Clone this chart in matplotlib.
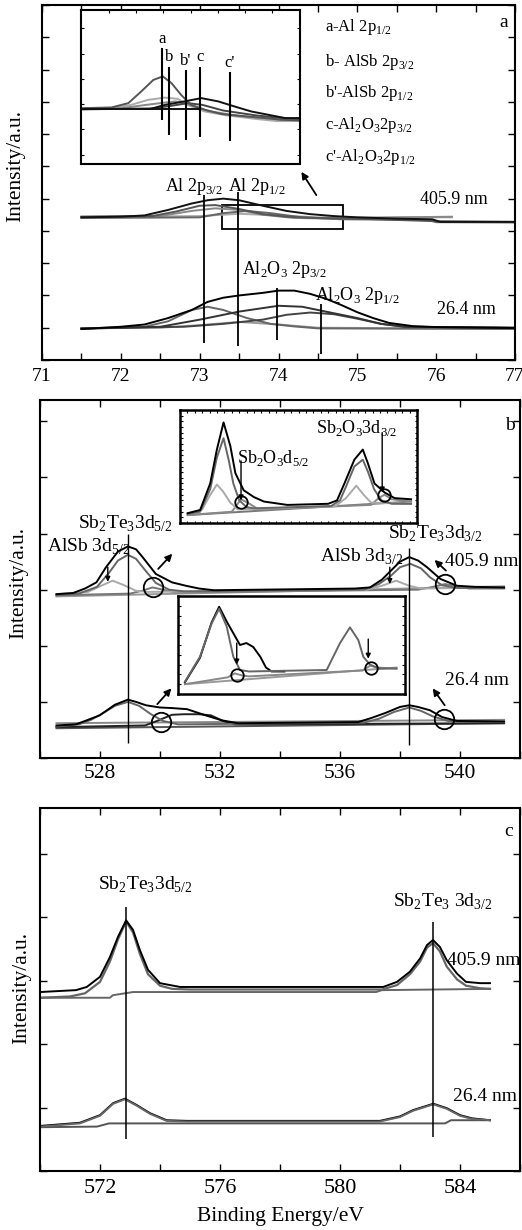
import numpy as np
import matplotlib
matplotlib.use('Agg')
import matplotlib.pyplot as plt
from matplotlib.ticker import MultipleLocator, FixedLocator
from matplotlib.patches import Rectangle

plt.rcParams['font.family'] = ['Liberation Serif', 'DejaVu Serif']
plt.rcParams['mathtext.fontset'] = 'custom'
plt.rcParams['mathtext.rm'] = 'Liberation Serif'

W, H = 522, 1230

# ---------------- panel a : Al 2p ----------------
A_U_BLACK_X = [71.5, 72.0, 72.3, 72.6, 72.9, 73.1, 73.3, 73.5, 73.8, 74.1, 74.4, 74.7, 75.0, 75.5, 75.95, 76.05, 77.0]
A_U_BLACK_Y = [4.42, 4.44, 4.48, 4.65, 4.85, 4.95, 5.00, 4.95, 4.78, 4.62, 4.52, 4.46, 4.42, 4.38, 4.36, 4.28, 4.28]
A_U_G1_X = [71.5, 72.4, 72.7, 73.0, 73.2, 73.5, 73.8, 74.1, 74.5, 75.0, 76.0, 77.0]
A_U_G1_Y = [4.44, 4.46, 4.60, 4.78, 4.80, 4.68, 4.52, 4.44, 4.40, 4.38, 4.30, 4.28]
A_U_G2_X = [71.5, 72.5, 72.9, 73.2, 73.5, 73.8, 74.2, 74.8, 75.5, 76.2]
A_U_G2_Y = [4.44, 4.46, 4.62, 4.70, 4.65, 4.50, 4.40, 4.38, 4.42, 4.44]
A_U_G3_X = [71.5, 73.0, 73.3, 73.6, 73.9, 74.3, 74.8, 75.9, 76.0, 77.0]
A_U_G3_Y = [4.40, 4.42, 4.55, 4.62, 4.55, 4.42, 4.36, 4.34, 4.27, 4.26]
A_U_G4_X = [71.5, 73.0, 73.5, 74.0, 74.5, 76.2]
A_U_G4_Y = [4.43, 4.46, 4.53, 4.48, 4.42, 4.42]

A_L_BLACK_X = [71.5, 72.0, 72.3, 72.6, 72.9, 73.1, 73.3, 73.5, 73.8, 74.0, 74.2, 74.4, 74.6, 74.8, 75.0, 75.2, 75.4, 75.7, 76.0, 77.0]
A_L_BLACK_Y = [0.96, 1.03, 1.10, 1.30, 1.55, 1.80, 1.93, 2.00, 2.08, 2.15, 2.15, 2.05, 1.90, 1.70, 1.48, 1.30, 1.15, 1.05, 1.02, 0.99]
A_L_G1_X = [71.5, 72.5, 73.0, 73.5, 74.0, 74.3, 74.6, 75.0, 75.3, 75.6, 77.0]
A_L_G1_Y = [0.97, 1.03, 1.25, 1.50, 1.68, 1.65, 1.50, 1.30, 1.12, 1.03, 1.00]
A_L_G2_X = [71.5, 72.8, 73.3, 73.8, 74.1, 74.4, 74.7, 75.0, 75.3, 75.6, 77.0]
A_L_G2_Y = [0.98, 1.03, 1.12, 1.25, 1.40, 1.47, 1.42, 1.28, 1.12, 1.03, 1.00]
A_L_G3_X = [71.5, 72.3, 72.6, 72.9, 73.1, 73.3, 73.6, 73.9, 74.2, 74.5, 77.0]
A_L_G3_Y = [0.98, 1.03, 1.20, 1.55, 1.65, 1.55, 1.30, 1.12, 1.04, 0.98, 0.96]
A_L_G4_X = [71.5, 72.5, 73.0, 73.5, 74.0, 74.5, 76.0]
A_L_G4_Y = [0.98, 1.00, 1.08, 1.18, 1.10, 1.00, 0.98]

A_PEAKS = [73.06, 73.49, 73.98, 74.54]
A_PEAK_LO = [0.53, 0.43, 0.62, 0.19]
A_PEAK_HI = [5.11, 5.22, 2.23, 1.74]

# inset of panel a
AI_G1_X = [72.3, 72.75, 73.0, 73.19, 73.37, 73.51, 73.64, 73.78, 73.93, 74.13, 74.38, 74.72, 75.02, 75.26, 75.54]
AI_G1_Y = [1.84, 1.87, 2.04, 2.50, 2.96, 3.10, 2.83, 2.37, 1.97, 1.78, 1.61, 1.52, 1.45, 1.38, 1.36]
AI_G2_X = [72.3, 72.75, 73.04, 73.29, 73.54, 73.73, 73.88, 74.13, 74.45, 74.87, 75.2, 75.54]
AI_G2_Y = [1.82, 1.84, 1.97, 2.17, 2.26, 2.21, 1.97, 1.71, 1.56, 1.42, 1.33, 1.33]
AI_G3_X = [72.3, 72.9, 73.2, 73.5, 73.7, 73.9, 74.2, 74.6, 75.0, 75.54]
AI_G3_Y = [1.80, 1.84, 1.95, 2.05, 2.11, 1.98, 1.72, 1.55, 1.45, 1.35]
AI_G4_X = [72.3, 73.3, 73.6, 73.88, 74.1, 74.4, 74.9, 75.54]
AI_G4_Y = [1.80, 1.82, 1.92, 2.04, 1.97, 1.75, 1.55, 1.38]
AI_BLACK_X = [72.3, 73.34, 73.54, 73.83, 74.08, 74.33, 74.57, 74.82, 75.07, 75.32, 75.54]
AI_BLACK_Y = [1.80, 1.82, 1.97, 2.11, 2.24, 2.11, 1.91, 1.71, 1.58, 1.45, 1.45]
AI_BASE_X = [72.3, 74.05]
AI_BASE_Y = [1.80, 1.80]
AI_LINES = ['a', 'b', "b'", 'c', "c'"]
AI_LINE_X = [73.50, 73.60, 73.85, 74.06, 74.50]
AI_LINE_LO = [1.38, 0.76, 0.59, 0.69, 0.53]
AI_LINE_HI = [4.22, 3.49, 3.36, 3.49, 3.27]
AI_LEGEND = [r'a-Al 2p$_\mathregular{1/2}$', r'b- AlSb 2p$_\mathregular{3/2}$', r"b'-AlSb 2p$_\mathregular{1/2}$",
             r'c-Al$_\mathregular{2}$O$_\mathregular{3}$2p$_\mathregular{3/2}$',
             r"c'-Al$_\mathregular{2}$O$_\mathregular{3}$2p$_\mathregular{1/2}$"]

# ---------------- panel b : Sb 3d / O 1s ----------------
B_U_BLACK_X = [526.55, 527.1, 527.5, 527.88, 528.2, 528.6, 528.93, 529.2, 529.42, 529.86, 530.4, 530.86, 531.3, 531.8, 536.5, 537.0, 537.4, 537.7, 538.0, 538.31, 538.6, 538.9, 539.35, 539.9, 540.5, 541.47]
B_U_BLACK_Y = [2.92, 2.94, 3.02, 3.13, 3.40, 3.68, 3.77, 3.72, 3.58, 3.28, 3.13, 3.07, 3.02, 2.99, 3.02, 3.04, 3.18, 3.34, 3.50, 3.58, 3.52, 3.40, 3.19, 3.07, 3.05, 3.04]
B_U_G1_X = [526.55, 527.3, 527.9, 528.3, 528.6, 528.93, 529.2, 529.5, 529.86, 530.3, 530.8, 536.8, 537.3, 537.7, 538.0, 538.35, 538.7, 539.0, 539.4, 539.9, 541.47]
B_U_G1_Y = [2.90, 2.93, 3.05, 3.30, 3.52, 3.62, 3.55, 3.35, 3.12, 3.00, 2.97, 3.00, 3.10, 3.25, 3.40, 3.46, 3.38, 3.22, 3.08, 3.03, 3.03]
B_U_G2_X = [526.55, 527.6, 528.0, 528.42, 528.8, 529.2, 529.6, 536.9, 537.4, 537.87, 538.3, 538.7, 541.47]
B_U_G2_Y = [2.92, 2.96, 3.06, 3.16, 3.08, 2.98, 2.96, 3.00, 3.07, 3.16, 3.07, 3.02, 3.04]
B_U_G3_X = [526.55, 529.0, 529.4, 529.75, 530.1, 530.5, 538.6, 539.1, 539.5, 539.9, 540.3, 541.47]
B_U_G3_Y = [2.90, 2.93, 2.98, 3.04, 3.00, 2.95, 3.00, 3.05, 3.10, 3.06, 3.02, 3.02]
B_U_BASE_X = [526.55, 541.47]
B_U_BASE_Y = [2.88, 3.06]

B_L_BLACK_X = [526.55, 527.2, 527.55, 527.99, 528.5, 528.93, 529.2, 529.53, 530.0, 530.4, 530.9, 531.52, 532.07, 532.6, 536.6, 537.03, 537.5, 538.0, 538.31, 538.6, 539.0, 539.4, 539.9, 541.47]
B_L_BLACK_Y = [0.58, 0.60, 0.67, 0.76, 0.95, 1.04, 1.00, 0.94, 0.90, 0.89, 0.87, 0.76, 0.67, 0.62, 0.64, 0.71, 0.80, 0.91, 0.94, 0.91, 0.85, 0.73, 0.66, 0.65]
B_L_G1_X = [526.55, 527.3, 527.7, 528.1, 528.5, 528.93, 529.3, 529.7, 530.1, 530.6, 536.8, 537.3, 537.8, 538.31, 538.7, 539.1, 539.6, 541.47]
B_L_G1_Y = [0.56, 0.60, 0.68, 0.80, 0.93, 1.00, 0.93, 0.78, 0.66, 0.60, 0.63, 0.70, 0.82, 0.90, 0.84, 0.74, 0.66, 0.64]
B_L_D2_X = [526.55, 529.5, 529.9, 530.4, 530.8, 531.3, 531.7, 532.1, 532.5, 541.47]
B_L_D2_Y = [0.55, 0.58, 0.66, 0.77, 0.78, 0.78, 0.76, 0.66, 0.60, 0.62]
B_L_BASE1_Y = [0.62, 0.68]
B_L_BASE2_Y = [0.53, 0.62]

B_PEAKS = [528.93, 538.31]
B_PEAK_LO = [0.27, 0.23]
B_PEAK_HI = [4.00, 3.75]
B_CIRCLE_X = [529.75, 539.50, 530.03, 539.46]
B_CIRCLE_Y = [3.04, 3.10, 0.645, 0.70]

# upper inset of panel b
BU_BLACK_X = [526.52, 527.36, 528.04, 528.49, 528.94, 529.4, 529.74, 530.3, 530.98, 531.66, 533.25, 536.0, 536.6, 537.1, 537.77, 538.34, 538.68, 539.13, 539.81, 540.49, 541.6]
BU_BLACK_Y = [0.087, 0.115, 0.35, 0.65, 0.89, 0.68, 0.44, 0.29, 0.23, 0.19, 0.16, 0.17, 0.20, 0.35, 0.56, 0.65, 0.53, 0.35, 0.27, 0.22, 0.21]
BU_G1_X = [526.52, 527.36, 528.04, 528.49, 528.94, 529.3, 529.6, 530.0, 530.5, 531.0, 536.2, 536.8, 537.2, 537.77, 538.34, 538.7, 539.1, 539.6, 540.3, 541.6]
BU_G1_Y = [0.08, 0.10, 0.30, 0.58, 0.75, 0.55, 0.35, 0.20, 0.14, 0.13, 0.15, 0.20, 0.32, 0.50, 0.56, 0.45, 0.30, 0.20, 0.17, 0.17]
BU_G2_X = [526.52, 527.5, 528.0, 528.49, 528.9, 529.4, 529.9, 536.5, 537.2, 537.9, 538.4, 538.9, 541.6]
BU_G2_Y = [0.08, 0.12, 0.24, 0.34, 0.28, 0.18, 0.12, 0.15, 0.22, 0.33, 0.25, 0.18, 0.17]
BU_G3_X = [526.52, 529.5, 530.12, 530.7, 531.3, 538.9, 539.4, 539.8, 540.3, 541.6]
BU_G3_Y = [0.07, 0.10, 0.21, 0.17, 0.12, 0.16, 0.22, 0.25, 0.21, 0.19]
BU_BASE_X = [526.52, 541.6]
BU_BASE_Y = [0.07, 0.19]
BU_CIRCLE_X = [530.12, 539.80]
BU_CIRCLE_Y = [0.19, 0.25]

# lower inset of panel b
BL_G1_X = [526.49, 527.55, 528.37, 528.9, 529.43, 529.9, 530.37, 531.0, 536.48, 537.42, 538.12, 538.71, 539.06, 539.53, 540.2, 541.4]
BL_G1_Y = [0.126, 0.38, 0.72, 0.87, 0.69, 0.38, 0.245, 0.23, 0.245, 0.52, 0.68, 0.55, 0.38, 0.30, 0.26, 0.26]
BL_BLACK_X = [526.49, 527.55, 528.37, 528.9, 529.43, 529.9, 530.37, 530.82, 531.3, 531.8, 532.2, 532.6, 533.5]
BL_BLACK_Y = [0.12, 0.37, 0.73, 0.89, 0.74, 0.62, 0.50, 0.52, 0.48, 0.38, 0.27, 0.23, 0.23]
BL_G2_X = [526.49, 529.5, 530.0, 530.5, 531.0, 539.0, 539.56, 540.0, 541.4]
BL_G2_Y = [0.10, 0.17, 0.21, 0.19, 0.18, 0.24, 0.29, 0.27, 0.26]
BL_BASE_X = [526.49, 541.4]
BL_BASE_Y = [0.10, 0.27]
BL_CIRCLE_X = [530.14, 539.58]
BL_CIRCLE_Y = [0.19, 0.27]

# ---------------- panel c : Sb 3d ----------------
C_U_BLACK_X = [570.0, 571.2, 571.56, 572.0, 572.33, 572.6, 572.87, 573.1, 573.33, 573.6, 574.0, 574.33, 574.67, 581.44, 581.9, 582.33, 582.67, 582.9, 583.1, 583.33, 583.56, 583.9, 584.2, 584.67, 585.0]
C_U_BLACK_Y = [2.82, 2.85, 2.90, 3.06, 3.37, 3.69, 3.95, 3.80, 3.48, 3.17, 2.96, 2.93, 2.90, 2.90, 2.98, 3.14, 3.35, 3.56, 3.64, 3.53, 3.32, 3.11, 2.98, 2.96, 2.96]
C_U_GRAY_X = [570.0, 571.0, 571.5, 572.0, 572.33, 572.6, 572.87, 573.1, 573.33, 573.6, 574.0, 574.4, 575.0, 581.4, 581.9, 582.33, 582.67, 582.9, 583.1, 583.33, 583.56, 583.9, 584.2, 584.67, 585.0]
C_U_GRAY_Y = [2.73, 2.75, 2.80, 2.98, 3.30, 3.65, 3.93, 3.76, 3.42, 3.10, 2.92, 2.87, 2.86, 2.86, 2.93, 3.10, 3.30, 3.52, 3.59, 3.46, 3.22, 3.02, 2.92, 2.88, 2.87]
C_U_BG_X = [570.0, 572.33, 572.43, 573.1, 581.2, 581.4, 585.0]
C_U_BG_Y = [2.73, 2.73, 2.77, 2.82, 2.82, 2.85, 2.87]
C_L_X = [570.0, 571.33, 572.0, 572.44, 572.83, 573.22, 573.67, 574.22, 574.89, 581.33, 582.0, 582.44, 583.11, 583.56, 584.0, 584.4, 585.0]
C_L_BLACK_Y = [0.71, 0.76, 0.88, 1.07, 1.14, 1.04, 0.91, 0.80, 0.79, 0.79, 0.86, 0.96, 1.06, 0.99, 0.88, 0.83, 0.80]
C_L_GRAY_Y = [0.70, 0.75, 0.87, 1.06, 1.13, 1.03, 0.90, 0.79, 0.78, 0.78, 0.85, 0.95, 1.05, 0.98, 0.87, 0.82, 0.80]
C_L_BG_X = [570.0, 571.9, 572.3, 583.5, 583.7, 585.0]
C_L_BG_Y = [0.69, 0.70, 0.75, 0.75, 0.80, 0.80]
C_PEAKS = [572.87, 583.11]
C_PEAK_LO = [0.51, 0.53]
C_PEAK_HI = [4.16, 3.93]


def px_axes(fig, l, t, r, b):
    return fig.add_axes([l / W, 1 - b / H, (r - l) / W, (b - t) / H])


def style_main(ax, lab_size, pad):
    for s in ax.spines.values():
        s.set_linewidth(1.5)
    ax.tick_params(which='both', direction='in', top=True, right=True,
                   labelleft=False, width=1.0, labelsize=lab_size, pad=pad)
    ax.tick_params(which='major', length=5)
    ax.tick_params(which='minor', length=5)
    ax.yaxis.set_major_locator(MultipleLocator(1))
    ax.yaxis.set_minor_locator(plt.NullLocator())


def style_inset(ax, lw=1.5):
    for s in ax.spines.values():
        s.set_linewidth(lw)
    ax.tick_params(which='both', direction='in', top=True, right=True,
                   labelleft=False, labelbottom=False, width=0.8, length=2.5)


def arrow(ax, tail, head, lw=1.3, ms=10):
    ax.annotate('', xy=head, xytext=tail,
                arrowprops=dict(arrowstyle='-|>', color='k', lw=lw, mutation_scale=ms,
                                shrinkA=0, shrinkB=0))


fig = plt.figure(figsize=(W / 100, H / 100), dpi=100)

# ===== panel a =====
ax = px_axes(fig, 42, 5, 515, 360)
style_main(ax, 14, 6)
ax.set_xlim(71, 77)
ax.set_ylim(0, 11)
ax.xaxis.set_major_locator(MultipleLocator(1))
ax.xaxis.set_minor_locator(MultipleLocator(0.5))
for xs, ys, c in [(A_U_G4_X, A_U_G4_Y, '#aaaaaa'), (A_U_G2_X, A_U_G2_Y, '#888888'),
                  (A_U_G3_X, A_U_G3_Y, '#666666'), (A_U_G1_X, A_U_G1_Y, '#555555'),
                  (A_U_BLACK_X, A_U_BLACK_Y, '#111111'),
                  (A_L_G4_X, A_L_G4_Y, '#999999'), (A_L_G3_X, A_L_G3_Y, '#666666'),
                  (A_L_G2_X, A_L_G2_Y, '#444444'), (A_L_G1_X, A_L_G1_Y, '#333333'),
                  (A_L_BLACK_X, A_L_BLACK_Y, '#000000')]:
    ax.plot(xs, ys, color=c, lw=1.4)
ax.vlines(A_PEAKS, A_PEAK_LO, A_PEAK_HI, color='k', lw=1.3)
ax.add_patch(Rectangle((73.28, 4.06), 1.54, 0.74, fill=False, ec='k', lw=1.3))
arrow(ax, (74.48, 5.11), (74.29, 5.83))
ax.text(72.56, 5.24, r'Al 2p$_\mathregular{3/2}$', fontsize=13)
ax.text(73.36, 5.24, r'Al 2p$_\mathregular{1/2}$', fontsize=13)
ax.text(73.54, 2.66, r'Al$_\mathregular{2}$O$_\mathregular{3}$ 2p$_\mathregular{3/2}$', fontsize=13)
ax.text(74.46, 1.86, r'Al$_\mathregular{2}$O$_\mathregular{3}$ 2p$_\mathregular{1/2}$', fontsize=13)
ax.text(75.8, 4.96, '405.9 nm', fontsize=13, va='center')
ax.text(76.01, 1.55, '26.4 nm', fontsize=13, va='center')
for i, s in enumerate(AI_LEGEND):
    ax.text(74.59, [10.32, 9.23, 8.27, 7.28, 6.29][i], s, fontsize=12, va='center')
ax.text(0.985, 0.95, 'a', transform=ax.transAxes, fontsize=14, ha='right', va='center')

axi = px_axes(fig, 81, 10, 300, 164)
style_inset(axi)
axi.set_xlim(72.3, 75.54)
axi.set_ylim(-0.37, 5.73)
axi.xaxis.set_major_locator(FixedLocator(np.arange(72.72, 75.5, 0.4)))
axi.yaxis.set_major_locator(MultipleLocator(1))
axi.tick_params(bottom=False)
for xs, ys, c in [(AI_G2_X, AI_G2_Y, '#aaaaaa'), (AI_G3_X, AI_G3_Y, '#888888'),
                  (AI_G4_X, AI_G4_Y, '#444444'), (AI_G1_X, AI_G1_Y, '#555555'),
                  (AI_BASE_X, AI_BASE_Y, '#111111'), (AI_BLACK_X, AI_BLACK_Y, '#111111')]:
    axi.plot(xs, ys, color=c, lw=1.4)
axi.vlines(AI_LINE_X, AI_LINE_LO, AI_LINE_HI, color='k', lw=1.5)
for lab, x, top in zip(AI_LINES, AI_LINE_X, AI_LINE_HI):
    axi.text(x, top + 0.05, lab, fontsize=12, ha='center', va='bottom')

# ===== panel b =====
ax = px_axes(fig, 40, 400, 520, 758)
style_main(ax, 15.5, 4)
ax.set_xlim(526, 542)
ax.set_ylim(0, 6.38)
ax.xaxis.set_major_locator(MultipleLocator(4))
ax.xaxis.set_minor_locator(MultipleLocator(2))
for xs, ys, c in [(B_U_BASE_X, B_U_BASE_Y, '#999999'), (B_U_G3_X, B_U_G3_Y, '#777777'),
                  (B_U_G2_X, B_U_G2_Y, '#aaaaaa'), (B_U_G1_X, B_U_G1_Y, '#666666'),
                  (B_U_BLACK_X, B_U_BLACK_Y, '#000000'),
                  (B_U_BASE_X, B_L_BASE1_Y, '#888888'), (B_U_BASE_X, B_L_BASE2_Y, '#555555'),
                  (B_L_D2_X, B_L_D2_Y, '#222222'), (B_L_G1_X, B_L_G1_Y, '#666666'),
                  (B_L_BLACK_X, B_L_BLACK_Y, '#000000')]:
    ax.plot(xs, ys, color=c, lw=1.4)
ax.vlines(B_PEAKS, B_PEAK_LO, B_PEAK_HI, color='k', lw=1.0)
ax.plot(B_CIRCLE_X, B_CIRCLE_Y, 'o', mfc='none', mec='k', mew=1.3, ms=14)
arrow(ax, (529.94, 3.37), (530.41, 3.64))
arrow(ax, (539.53, 3.34), (539.15, 3.53))
arrow(ax, (529.91, 0.96), (530.38, 1.24))
arrow(ax, (539.49, 0.94), (539.09, 1.24))
arrow(ax, (528.26, 3.40), (528.26, 3.14), lw=1.0, ms=7)
arrow(ax, (537.66, 3.40), (537.66, 3.10), lw=1.0, ms=7)
ax.text(527.26, 4.09, r'Sb$_\mathregular{2}$Te$_\mathregular{3}$3d$_\mathregular{5/2}$', fontsize=14)
ax.text(526.23, 3.68, r'AlSb 3d$_\mathregular{5/2}$', fontsize=14)
ax.text(537.6, 3.91, r'Sb$_\mathregular{2}$Te$_\mathregular{3}$3d$_\mathregular{3/2}$', fontsize=14)
ax.text(535.35, 3.50, r'AlSb 3d$_\mathregular{3/2}$', fontsize=14)
ax.text(539.49, 3.43, '405.9 nm', fontsize=14)
ax.text(539.49, 1.39, '26.4 nm', fontsize=14, va='center')
ax.text(0.99, 0.93, 'b', transform=ax.transAxes, fontsize=14, ha='right', va='center')

axu = px_axes(fig, 180, 410, 417, 523)
style_inset(axu, 1.8)
axu.set_xlim(526, 542)
axu.set_ylim(0, 1)
axu.xaxis.set_major_locator(MultipleLocator(0.5))
axu.yaxis.set_major_locator(MultipleLocator(0.05))
axu.tick_params(length=1.8, width=0.8)
for xs, ys, c in [(BU_BASE_X, BU_BASE_Y, '#777777'), (BU_G3_X, BU_G3_Y, '#888888'),
                  (BU_G2_X, BU_G2_Y, '#aaaaaa'), (BU_G1_X, BU_G1_Y, '#666666'),
                  (BU_BLACK_X, BU_BLACK_Y, '#000000')]:
    axu.plot(xs, ys, color=c, lw=1.4)
axu.plot(BU_CIRCLE_X, BU_CIRCLE_Y, 'o', mfc='none', mec='k', mew=1.3, ms=9)
arrow(axu, (530.12, 0.55), (530.12, 0.20), lw=1.0, ms=7)
arrow(axu, (539.65, 0.80), (539.65, 0.27), lw=1.0, ms=7)
axu.text(529.87, 0.575, r'Sb$_\mathregular{2}$O$_\mathregular{3}$d$_\mathregular{5/2}$', fontsize=13, va='center')
axu.text(535.17, 0.84, r'Sb$_\mathregular{2}$O$_\mathregular{3}$3d$_\mathregular{3/2}$', fontsize=13, va='center')

axl = px_axes(fig, 178, 596, 405, 694)
style_inset(axl, 1.8)
axl.set_xlim(526, 542)
axl.set_ylim(0, 1)
axl.xaxis.set_major_locator(MultipleLocator(1))
axl.yaxis.set_major_locator(MultipleLocator(0.1))
axl.tick_params(top=False, bottom=False)
for xs, ys, c in [(BL_BASE_X, BL_BASE_Y, '#999999'), (BL_G2_X, BL_G2_Y, '#888888'),
                  (BL_BLACK_X, BL_BLACK_Y, '#000000'), (BL_G1_X, BL_G1_Y, '#666666')]:
    axl.plot(xs, ys, color=c, lw=1.4)
axl.plot(BL_CIRCLE_X, BL_CIRCLE_Y, 'o', mfc='none', mec='k', mew=1.3, ms=9)
arrow(axl, (530.14, 0.52), (530.14, 0.30), lw=1.0, ms=7)
arrow(axl, (539.41, 0.56), (539.41, 0.36), lw=1.0, ms=7)

# ===== panel c =====
ax = px_axes(fig, 40, 808, 520, 1171)
style_main(ax, 16, 6)
ax.set_xlim(570, 586)
ax.set_ylim(0, 5.72)
ax.xaxis.set_major_locator(MultipleLocator(4))
ax.xaxis.set_minor_locator(MultipleLocator(2))
ax.plot(C_U_BG_X, C_U_BG_Y, color='#666666', lw=1.4)
ax.plot(C_U_GRAY_X, C_U_GRAY_Y, color='#666666', lw=1.6)
ax.plot(C_U_BLACK_X, C_U_BLACK_Y, color='#000000', lw=1.4)
ax.plot(C_L_BG_X, C_L_BG_Y, color='#555555', lw=1.4)
ax.plot(C_L_X, C_L_BLACK_Y, color='#000000', lw=1.4)
ax.plot(C_L_X, C_L_GRAY_Y, color='#666666', lw=1.4)
ax.vlines(C_PEAKS, C_PEAK_LO, C_PEAK_HI, color='k', lw=1.1)
ax.text(571.93, 4.43, r'Sb$_\mathregular{2}$Te$_\mathregular{3}$3d$_\mathregular{5/2}$', fontsize=14)
ax.text(581.77, 4.16, r'Sb$_\mathregular{2}$Te$_\mathregular{3}$ 3d$_\mathregular{3/2}$', fontsize=14)
ax.text(583.57, 3.32, '405.9 nm', fontsize=14, va='center')
ax.text(583.77, 1.17, '26.4 nm', fontsize=14, va='center')
ax.text(0.985, 0.935, 'c', transform=ax.transAxes, fontsize=14, ha='right', va='center')
ax.set_xlabel('Binding Energy/eV', fontsize=15.5, labelpad=6)

for yc, xc in [(166, 16), (583, 19), (988, 22)]:
    fig.text(xc / W, 1 - yc / H, 'Intensity/a.u.', rotation=90, ha='center', va='center', fontsize=15.5)

fig.savefig('out.png', dpi=100)
